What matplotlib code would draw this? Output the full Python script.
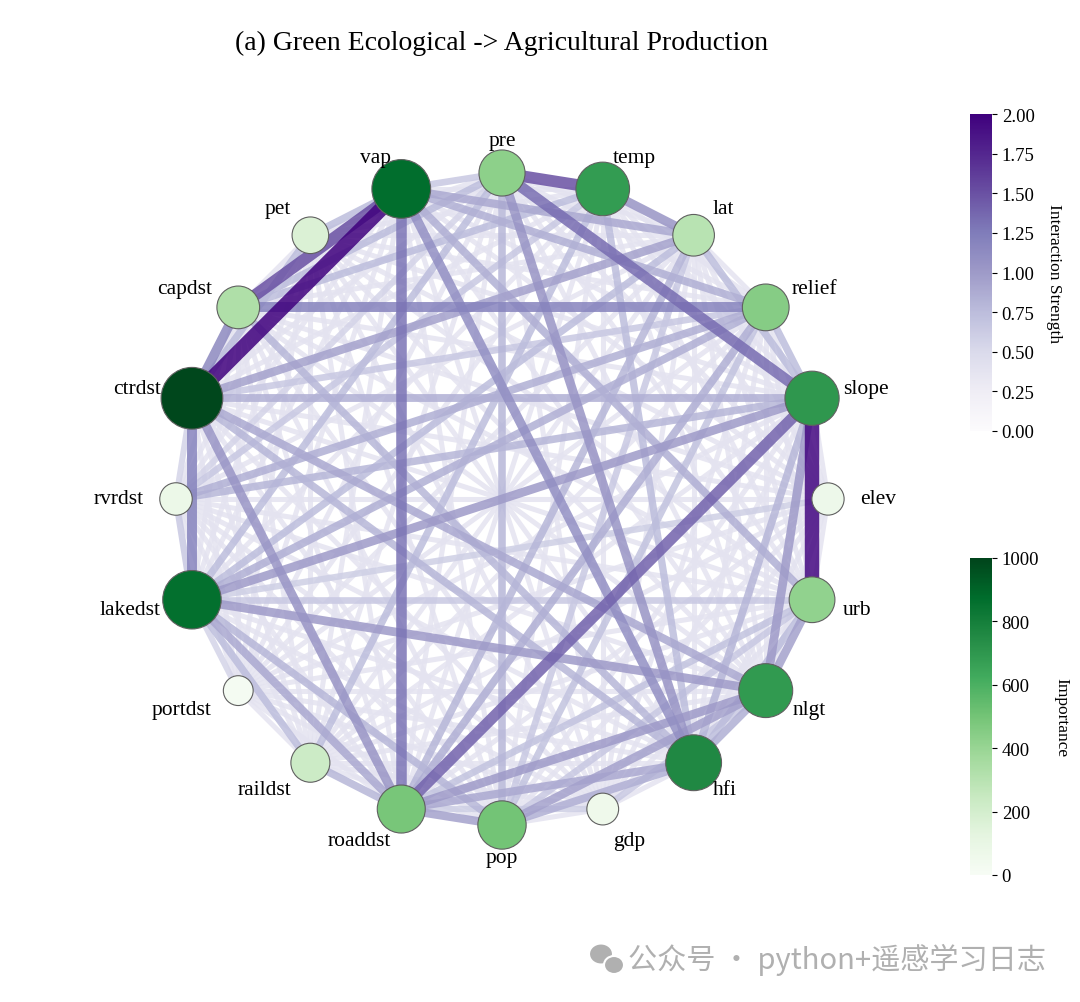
import matplotlib
matplotlib.use("Agg")
import matplotlib.pyplot as plt
import numpy as np
from matplotlib.collections import LineCollection
from matplotlib import colors, cm
from matplotlib.patches import Ellipse

# ---------------- data ----------------
NODES = ["pre", "temp", "lat", "relief", "slope", "elev", "urb", "nlgt", "hfi", "gdp",
         "pop", "roaddst", "raildst", "portdst", "lakedst", "rvrdst", "ctrdst", "capdst",
         "pet", "vap"]
IMPORTANCE = [430, 680, 300, 450, 700, 70, 420, 690, 760, 60,
              500, 490, 230, 20, 860, 75, 990, 330, 170, 870]

EDGE_SOURCE = ["vap", "slope", "vap", "pre", "slope", "pre", "vap", "ctrdst", "capdst", "ctrdst",
               "vap", "temp", "pre", "ctrdst", "lakedst", "lakedst", "nlgt", "nlgt", "roaddst", "pop",
               "roaddst", "ctrdst", "ctrdst", "lakedst", "vap", "ctrdst", "vap", "vap", "vap", "pre",
               "ctrdst", "rvrdst", "lakedst", "temp", "roaddst", "pop", "hfi", "hfi", "lakedst", "capdst",
               "relief", "lat", "temp", "pre", "slope", "relief", "pre", "lakedst", "lakedst", "raildst",
               "temp", "pre", "ctrdst", "rvrdst", "rvrdst", "lat", "relief", "temp", "pre", "relief",
               "lat", "elev", "nlgt", "urb", "urb", "urb", "gdp", "gdp", "slope"]
EDGE_TARGET = ["ctrdst", "urb", "capdst", "temp", "roaddst", "slope", "roaddst", "lakedst", "relief", "capdst",
               "hfi", "lat", "hfi", "roaddst", "nlgt", "slope", "slope", "urb", "nlgt", "nlgt",
               "pop", "lat", "nlgt", "roaddst", "pet", "pet", "lat", "urb", "relief", "pop",
               "slope", "relief", "relief", "hfi", "hfi", "hfi", "slope", "urb", "pop", "hfi",
               "roaddst", "roaddst", "raildst", "lakedst", "lat", "slope", "capdst", "raildst", "portdst", "roaddst",
               "capdst", "vap", "hfi", "lakedst", "ctrdst", "lakedst", "ctrdst", "rvrdst", "rvrdst", "pop",
               "pop", "lakedst", "hfi", "pop", "roaddst", "lakedst", "nlgt", "roaddst", "rvrdst"]
EDGE_STRENGTH = [2.00, 1.95, 1.50, 1.50, 1.40, 1.35, 1.30, 1.20, 1.20, 1.15,
                 1.10, 1.05, 1.05, 1.05, 1.00, 1.00, 1.00, 0.95, 1.00, 0.95,
                 0.95, 0.95, 0.90, 0.90, 0.75, 0.75, 0.90, 0.85, 0.85, 0.80,
                 0.85, 0.85, 0.85, 0.75, 0.90, 0.85, 0.80, 0.75, 0.80, 0.80,
                 0.85, 0.80, 0.75, 0.75, 0.75, 0.75, 0.75, 0.75, 0.55, 0.80,
                 0.75, 0.65, 0.80, 0.65, 0.55, 0.75, 0.65, 0.65, 0.55, 0.70,
                 0.65, 0.60, 0.85, 0.65, 0.70, 0.65, 0.65, 0.60, 0.80]
BACKGROUND_STRENGTH = 0.38   # faint links between all remaining pairs

TITLE = "(a) Green Ecological -> Agricultural Production"
WATERMARK = "公众号 · python+遥感学习日志"

# ---------------- figure ----------------
plt.rcParams['font.family'] = ['Liberation Serif', 'DejaVu Serif']
W, H = 1080, 1003
fig = plt.figure(figsize=(W / 100, H / 100), dpi=100)

R_PX = 326.0
CX, CY = 502.0, 500.0
LIM = 1.3
span = 2 * LIM * R_PX
ax = fig.add_axes([(CX - span / 2) / W, (H - CY - span / 2) / H, span / W, span / H])
ax.set_xlim(-LIM, LIM)
ax.set_ylim(-LIM, LIM)
ax.axis('off')

n = len(NODES)
ang = np.deg2rad(90 - 360.0 / n * np.arange(n))
px = np.cos(ang)
py = np.sin(ang)
idx = {name: k for k, name in enumerate(NODES)}

explicit = {}
for a, b, s in zip(EDGE_SOURCE, EDGE_TARGET, EDGE_STRENGTH):
    explicit[frozenset((idx[a], idx[b]))] = s

edges = []
for i in range(n):
    for j in range(i + 1, n):
        s = explicit.get(frozenset((i, j)), BACKGROUND_STRENGTH)
        edges.append((s, i, j))
edges.sort()

enorm = colors.Normalize(0, 2)
ecmap = plt.get_cmap('Purples')
segs = [[(px[i], py[i]), (px[j], py[j])] for s, i, j in edges]
svals = np.array([s for s, i, j in edges])
lc = LineCollection(segs, colors=ecmap(enorm(svals)), linewidths=2.0 + 4.3 * svals,
                    alpha=0.85, capstyle='butt', zorder=1)
ax.add_collection(lc)

imp = np.array(IMPORTANCE, dtype=float)
ax.scatter(px, py, s=430 + 1.56 * imp, c=imp, cmap='Greens', vmin=0, vmax=1000,
           edgecolors='#606060', linewidths=0.8, zorder=3)

for k, name in enumerate(NODES):
    c = np.cos(ang[k])
    ha = 'left' if c > 0.01 else ('right' if c < -0.01 else 'center')
    ax.text(1.1 * px[k], 1.1 * py[k], name, ha=ha, va='center', fontsize=15.5, zorder=4)

fig.text(CX / W, 1 - 43 / H, TITLE, ha='center', va='center', fontsize=20)

# colorbars
cax1 = fig.add_axes([970 / W, 1 - 432 / H, 22 / W, 317 / H])
sm1 = cm.ScalarMappable(norm=enorm, cmap=ecmap)
cb1 = fig.colorbar(sm1, cax=cax1)
cb1.outline.set_visible(False)
cb1.set_ticks(np.arange(0, 2.01, 0.25))
cb1.ax.set_yticklabels([f"{t:.2f}" for t in np.arange(0, 2.01, 0.25)], fontsize=13.5)
cb1.set_label("Interaction Strength", rotation=270, labelpad=20, fontsize=12.5)

cax2 = fig.add_axes([970 / W, 1 - 876 / H, 22 / W, 317 / H])
sm2 = cm.ScalarMappable(norm=colors.Normalize(0, 1000), cmap='Greens')
cb2 = fig.colorbar(sm2, cax=cax2)
cb2.outline.set_visible(False)
cb2.set_ticks(np.arange(0, 1001, 200))
cb2.ax.set_yticklabels([str(t) for t in range(0, 1001, 200)], fontsize=13.5)
cb2.set_label("Importance", rotation=270, labelpad=22, fontsize=12.5)

# watermark
fig.text(628 / W, 1 - 960 / H, WATERMARK, ha='left', va='center', fontsize=21,
         color='#b0b0b0', family=['Noto Sans CJK SC', 'DejaVu Sans'])
fig.patches.append(Ellipse((601 / W, 1 - 955 / H), 24 / W, 21 / H, transform=fig.transFigure,
                           facecolor='#b0b0b0', edgecolor='white', lw=1.5))
fig.patches.append(Ellipse((614 / W, 1 - 966 / H), 20 / W, 18 / H, transform=fig.transFigure,
                           facecolor='#b0b0b0', edgecolor='white', lw=1.5))

fig.savefig("out.png", dpi=100, facecolor='white')
